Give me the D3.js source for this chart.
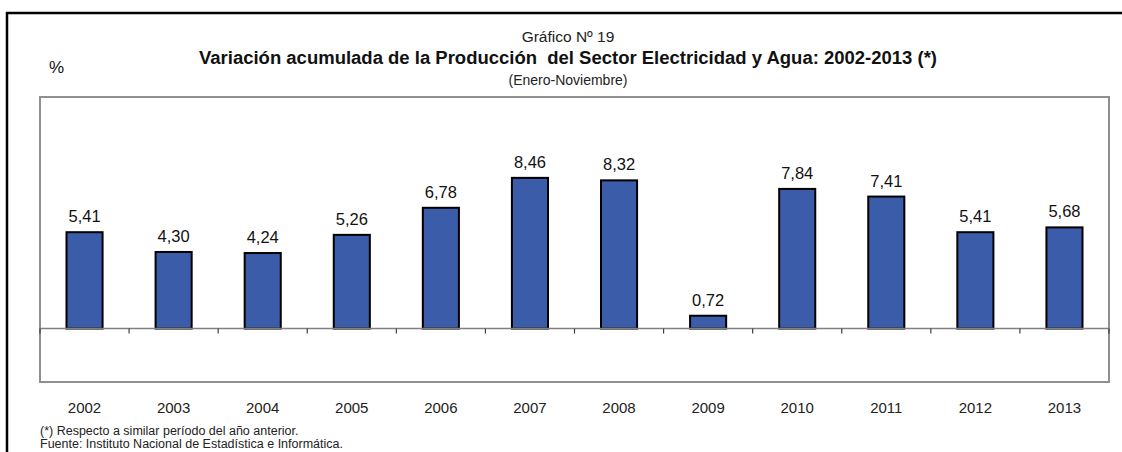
<!DOCTYPE html>
<html><head><meta charset="utf-8">
<script src="https://cdn.jsdelivr.net/npm/d3@7"></script>
<style>body{margin:0;background:#fff}svg{display:block}</style>
</head><body>
<script>
const years = ["2002","2003","2004","2005","2006","2007","2008","2009","2010","2011","2012","2013"];
const values = [5.41,4.30,4.24,5.26,6.78,8.46,8.32,0.72,7.84,7.41,5.41,5.68];
const labels = ["5,41","4,30","4,24","5,26","6,78","8,46","8,32","0,72","7,84","7,41","5,41","5,68"];
const yDomain = [-3, 13];

const W = 1122, H = 452;
const narrow = "'Liberation Sans Narrow','Arial Narrow','Liberation Sans',Arial,sans-serif";
const reg = "'Liberation Sans',Arial,sans-serif";
const svg = d3.select("body").append("svg").attr("width", W).attr("height", H);

// outer frame
svg.append("path").attr("d", `M7,${H} L7,13 L${W},13`).attr("fill","none").attr("stroke","#000").attr("stroke-width",2.5);

const L = 40, R = 1109, T = 97, B = 382;
const x = d3.scaleBand().domain(years).range([L, R]).paddingInner(0).paddingOuter(0);
const y = d3.scaleLinear().domain(yDomain).range([B, T]);

// plot border
svg.append("rect").attr("x", L).attr("y", T).attr("width", R-L).attr("height", B-T)
  .attr("fill","none").attr("stroke","#8f8f8f").attr("stroke-width",2);

// bars
const bw = x.bandwidth()*0.405;
svg.selectAll("rect.bar").data(values).enter().append("rect").attr("class","bar")
  .attr("x",(d,i)=>x(years[i])+x.bandwidth()/2-bw/2)
  .attr("y",d=>y(Math.max(0,d)))
  .attr("width",bw)
  .attr("height",d=>Math.abs(y(d)-y(0)))
  .attr("fill","#3A5CA9").attr("stroke","#000").attr("stroke-width",2);

// zero axis with ticks at category boundaries
const g0 = svg.append("g").attr("transform",`translate(0,${y(0)})`);
g0.append("line").attr("x1",L).attr("x2",R).attr("stroke","#808080").attr("stroke-width",1.5);
const bounds = years.map(yr=>x(yr)).concat([R]);
g0.selectAll("line.tk").data(bounds).enter().append("line").attr("class","tk")
  .attr("x1",d=>d).attr("x2",d=>d).attr("y1",0).attr("y2",5).attr("stroke","#404040").attr("stroke-width",1.2);

// value labels
svg.selectAll("text.val").data(values).enter().append("text").attr("class","val")
  .attr("x",(d,i)=>x(years[i])+x.bandwidth()/2)
  .attr("y",d=>y(d)-10)
  .attr("text-anchor","middle").attr("font-family",reg).attr("font-size",16.5).attr("fill","#111")
  .text((d,i)=>labels[i]);

// year labels
svg.selectAll("text.yr").data(years).enter().append("text").attr("class","yr")
  .attr("x",d=>x(d)+x.bandwidth()/2).attr("y",413)
  .attr("text-anchor","middle").attr("font-family",narrow).attr("font-size",15).attr("fill","#222")
  .text(d=>d);

// titles
svg.append("text").attr("x",568).attr("y",42).attr("text-anchor","middle")
  .attr("font-family",narrow).attr("font-size",15.5).attr("fill","#222").text("Gráfico Nº 19");
svg.append("text").attr("x",568).attr("y",64).attr("text-anchor","middle")
  .attr("font-family",narrow).attr("font-size",18).attr("font-weight","bold").attr("fill","#111")
  .attr("textLength",738).attr("lengthAdjust","spacingAndGlyphs")
  .attr("xml:space","preserve").style("white-space","pre")
  .text("Variación acumulada de la Producción  del Sector Electricidad y Agua: 2002-2013 (*)");
svg.append("text").attr("x",568).attr("y",85).attr("text-anchor","middle")
  .attr("font-family",narrow).attr("font-size",14).attr("fill","#222").text("(Enero-Noviembre)");
svg.append("text").attr("x",49).attr("y",73)
  .attr("font-family",reg).attr("font-size",17).attr("fill","#111").text("%");

// footnotes
svg.append("text").attr("x",40).attr("y",435)
  .attr("font-family",narrow).attr("font-size",12.5).attr("fill","#222").text("(*) Respecto a similar período del año anterior.");
svg.append("text").attr("x",40).attr("y",448)
  .attr("font-family",narrow).attr("font-size",12.5).attr("fill","#222").text("Fuente: Instituto Nacional de Estadística e Informática.");
</script>
</body></html>
